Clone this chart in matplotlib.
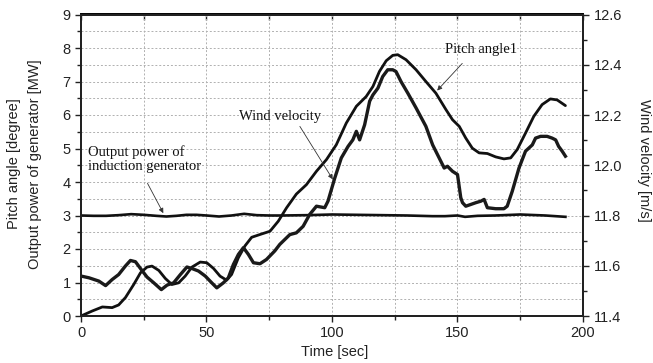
import matplotlib
matplotlib.use("Agg")
import matplotlib.pyplot as plt
from matplotlib.ticker import MultipleLocator

# ---- data ----
pitch_t = [0, 4.5, 8.5, 12.4, 15, 17.7, 21, 23.7, 26.3, 28.3, 31, 33.6, 36.2, 38.9,
           41.5, 44.2, 47.5, 50.1, 52.8, 55.4, 58, 60, 62.7, 65.3, 68, 72, 75.3,
           78.6, 81.9, 85.8, 89.8, 93.8, 97.8, 101.7, 105.7, 109.7, 113.6, 116.3,
           118.9, 121.6, 124.2, 126.2, 129.5, 133.5, 137.4, 141.4, 145.4, 148,
           150.7, 153.3, 155.9, 158.6, 161.9, 165.2, 168.5, 171.2, 173.8, 177.1,
           180.4, 183.7, 187, 189.7, 193]
pitch_deg = [0, 0.15, 0.27, 0.25, 0.33, 0.55, 0.94, 1.29, 1.46, 1.49, 1.36, 1.12,
             0.94, 0.99, 1.19, 1.46, 1.61, 1.59, 1.42, 1.19, 1.07, 1.24, 1.74,
             2.09, 2.35, 2.45, 2.53, 2.83, 3.23, 3.64, 3.92, 4.32, 4.67, 5.11,
             5.76, 6.26, 6.55, 6.85, 7.30, 7.62, 7.78, 7.80, 7.65, 7.35, 7.00,
             6.65, 6.16, 5.86, 5.66, 5.31, 5.01, 4.87, 4.85, 4.75, 4.69, 4.72,
             4.97, 5.46, 5.96, 6.31, 6.48, 6.45, 6.28]

wind_t = [0, 3.2, 7.1, 9.8, 12.4, 15, 17.7, 19.7, 21.7, 23.7, 26.3, 29, 32, 34.3,
          36.9, 39.6, 42.2, 44.2, 46.8, 49.5, 52.1, 54.1, 56.7, 58.7, 60.7, 62.7,
          64.7, 66.7, 68.7, 71.3, 73.9, 77.2, 79.2, 83.2, 85.8, 88.5, 91.1, 93.8,
          97.1, 98.4, 101.1, 103.7, 106.4, 108.3, 109.7, 111, 113, 115, 116.3,
          118.3, 120.2, 122.2, 124.2, 125.5, 127.5, 130.2, 133.5, 137.4, 140.1,
          142.7, 144.7, 146, 148, 150, 151.3, 152, 153.3, 155.3, 157.3, 159.3,
          160.6, 161.9, 165.2, 168.5, 169.8, 171.8, 174.5, 177.1, 179.8, 181.1,
          183.1, 185.7, 187.7, 189.1, 190.3, 191.7, 193]
wind_ms = [11.559, 11.552, 11.539, 11.521, 11.545, 11.565, 11.599, 11.621, 11.616,
           11.589, 11.555, 11.532, 11.505, 11.523, 11.532, 11.565, 11.595, 11.589,
           11.579, 11.559, 11.532, 11.512, 11.532, 11.552, 11.605, 11.645, 11.672,
           11.645, 11.612, 11.608, 11.625, 11.659, 11.685, 11.724, 11.731, 11.757,
           11.804, 11.837, 11.831, 11.857, 11.949, 12.029, 12.075, 12.101, 12.135,
           12.101, 12.161, 12.255, 12.280, 12.307, 12.353, 12.380, 12.380, 12.373,
           12.333, 12.287, 12.228, 12.155, 12.081, 12.029, 11.989, 11.996, 11.976,
           11.963, 11.871, 11.851, 11.837, 11.844, 11.851, 11.857, 11.864, 11.831,
           11.827, 11.827, 11.837, 11.896, 11.989, 12.056, 12.081, 12.108, 12.115,
           12.115, 12.108, 12.101, 12.075, 12.056, 12.036]

power_t = [0, 5, 10, 15, 20, 25, 30, 34, 38, 42, 46, 50, 55, 60, 65, 70, 75, 80,
           90, 100, 110, 120, 130, 140, 145, 150, 153, 158, 165, 175, 185, 193]
power_mw = [3.0, 2.99, 2.99, 3.01, 3.04, 3.02, 2.99, 2.97, 2.99, 3.02, 3.02, 3.0,
            2.97, 3.0, 3.05, 3.01, 3.0, 3.0, 3.01, 3.03, 3.02, 3.01, 3.0, 2.98,
            2.98, 3.0, 2.96, 2.99, 3.0, 3.03, 3.0, 2.96]

x_ticks = [0, 50, 100, 150, 200]
left_ticks = list(range(0, 10))
right_ticks = [11.4, 11.6, 11.8, 12.0, 12.2, 12.4, 12.6]

# ---- figure ----
W, H = 653, 363
L, R, T, B = 81, 583, 14.5, 316
fig = plt.figure(figsize=(W / 100, H / 100), dpi=100)
ax = fig.add_axes([L / W, 1 - B / H, (R - L) / W, (B - T) / H])
ax2 = ax.twinx()

ink = "#111111"
ax.plot(pitch_t, pitch_deg, color=ink, lw=2.0, solid_capstyle="round")
ax.plot(power_t, power_mw, color=ink, lw=1.9)
ax2.plot(wind_t, wind_ms, color="#1a1a1a", lw=2.4)

ax.set_xlim(0, 200)
ax.set_ylim(0, 9)
ax2.set_ylim(11.4, 12.6)

ax.set_xticks(x_ticks)
ax.xaxis.set_minor_locator(MultipleLocator(25))
ax.set_yticks(left_ticks)
ax.yaxis.set_minor_locator(MultipleLocator(0.5))
ax2.set_yticks(right_ticks)
ax2.set_yticklabels([f"{v:.1f}" for v in right_ticks])
ax2.yaxis.set_minor_locator(MultipleLocator(0.1))

# top ticks pointing inward (no labels)
top = ax.secondary_xaxis("top")
top.set_xticks(x_ticks)
top.xaxis.set_minor_locator(MultipleLocator(25))
top.tick_params(which="both", direction="in", labeltop=False, length=4,
                width=1.0, colors="#222222")
top.spines["top"].set_linewidth(1.4)

lab_font = dict(family="Liberation Sans", size=10.5, color="#222222")
for a in (ax, ax2):
    a.tick_params(which="both", direction="out", colors="#222222", labelsize=10.5,
                  width=1.0)
    a.tick_params(which="major", length=4)
    a.tick_params(which="minor", length=3)
    for lbl in a.get_xticklabels() + a.get_yticklabels():
        lbl.set_fontfamily("Liberation Sans")
    for s in a.spines.values():
        s.set_linewidth(1.4)
        s.set_color("#222222")

ax.grid(True, which="both", color="#b0b0b0", linestyle=(0, (2, 2)), lw=0.7)
ax.set_axisbelow(True)

fig.text(335 / W, 1 - 352 / H, "Time [sec]", ha="center", va="center", **lab_font)
fig.text(14 / W, 1 - 164 / H, "Pitch angle [degree]", rotation=90,
         ha="center", va="center", **lab_font)
fig.text(35 / W, 1 - 164 / H, "Output power of generator [MW]", rotation=90,
         ha="center", va="center", **lab_font)
fig.text(644 / W, 1 - 160 / H, "Wind velocity [m/s]", rotation=270,
         ha="center", va="center", **lab_font)

ann_font = dict(family="Liberation Serif", size=10.5, color="#111111")
arrow = dict(arrowstyle="-|>", lw=0.6, color="#333333", mutation_scale=7,
             shrinkA=0, shrinkB=0)
ax.text(159.3, 7.96, "Pitch angle1", ha="center", va="center", **ann_font)
ax.annotate("", xy=(141.9, 6.73), xytext=(151.9, 7.54), arrowprops=arrow)
ax.text(79.2, 5.96, "Wind velocity", ha="center", va="center", **ann_font)
ax.annotate("", xy=(100.3, 4.08), xytext=(87.2, 5.66), arrowprops=arrow)
ax.text(2.6, 4.68, "Output power of\ninduction generator", ha="left", va="center",
        linespacing=1.05, **ann_font)
ax.annotate("", xy=(32.8, 3.07), xytext=(26.5, 3.96), arrowprops=arrow)

fig.savefig("out.png", dpi=100)
